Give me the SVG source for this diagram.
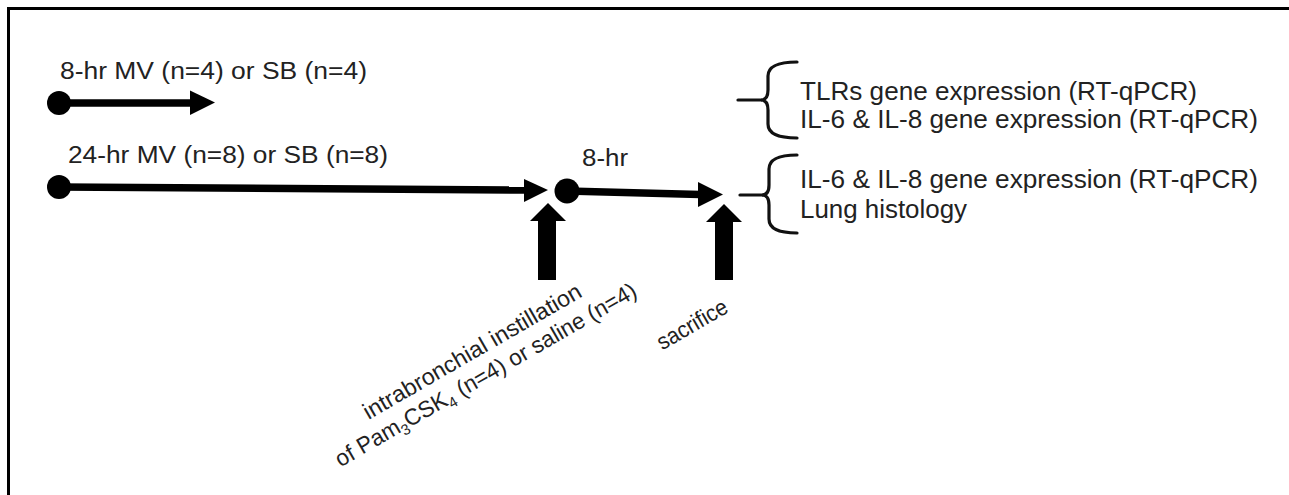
<svg xmlns="http://www.w3.org/2000/svg" width="1289" height="495" viewBox="0 0 1289 495">
<style>
  .t { font-family: "Liberation Sans", Arial, sans-serif; fill: #222; }
  .l { font-size: 23px; }
  .r { font-size: 25px; }
  .rot { font-size: 23px; }
  .line { stroke: #000; stroke-width: 7.5; fill: none; }
  .dot { fill: #000; }
  .head { fill: #000; }
  .brace { stroke: #111; stroke-width: 3.2; fill: none; stroke-linecap: round; }
  .frame { stroke: #000; stroke-width: 3; fill: none; }
</style>
<rect width="1289" height="495" fill="#fff"/>
<path class="frame" d="M8.5,495 L8.5,8.5 L1289,8.5"/>

<g id="label-8hr-group">
  <text class="t l" x="60" y="79" textLength="307" lengthAdjust="spacingAndGlyphs">8-hr MV (n=4) or SB (n=4)</text>
</g>
<g id="label-24hr-group">
  <text class="t l" x="68" y="163" textLength="320" lengthAdjust="spacingAndGlyphs">24-hr MV (n=8) or SB (n=8)</text>
</g>
<g id="label-8hr-after">
  <text class="t l" x="582" y="166" textLength="46" lengthAdjust="spacingAndGlyphs">8-hr</text>
</g>

<g id="start-8hr"><circle class="dot" cx="59" cy="103" r="12"/></g>
<g id="start-24hr"><circle class="dot" cx="59" cy="187" r="12"/></g>
<g id="instillation-point"><circle class="dot" cx="567" cy="191" r="12.5"/></g>

<g id="connectors">
  <line class="line" x1="59" y1="103" x2="192" y2="103"/>
  <polygon class="head" points="190,90.5 215,102.5 190,115"/>
  <line class="line" x1="59" y1="187" x2="527" y2="190"/>
  <polygon class="head" points="524,179 548,190 524,202"/>
  <line class="line" x1="567" y1="191" x2="700" y2="194.5"/>
  <polygon class="head" points="698,182 723,194.5 698,207"/>
  <polygon class="head" points="538,280 538,221 530,221 548,203 566,221 556,221 556,280"/>
  <polygon class="head" points="715,280 715,222 706,222 724,204 742,222 733,222 733,280"/>
</g>

<g id="instillation-label" transform="translate(476,358) rotate(-30)">
  <text class="t rot" x="-124" y="0" textLength="248" lengthAdjust="spacingAndGlyphs">intrabronchial instillation</text>
  <text class="t rot" x="-172" y="27" textLength="344" lengthAdjust="spacingAndGlyphs">of Pam<tspan font-size="15" dy="5">3</tspan><tspan dy="-5">CSK</tspan><tspan font-size="15" dy="5">4</tspan><tspan dy="-5"> (n=4) or saline (n=4)</tspan></text>
</g>

<g id="sacrifice-label" transform="translate(696,331) rotate(-30)">
  <text class="t rot" x="-39" y="0" textLength="78" lengthAdjust="spacingAndGlyphs">sacrifice</text>
</g>

<g id="outcome-8hr">
  <line class="brace" x1="738" y1="100" x2="761" y2="100" stroke-width="3.5"/>
  <path class="brace" d="M797,62 Q768,62 768,76 L768,90 Q768,100 761,100 Q768,100 768,110 L768,124 Q768,138 797,138"/>
  <text class="t r" x="800" y="100" textLength="397" lengthAdjust="spacingAndGlyphs">TLRs gene expression (RT-qPCR)</text>
  <text class="t r" x="800" y="128" textLength="458" lengthAdjust="spacingAndGlyphs">IL-6 &amp; IL-8 gene expression (RT-qPCR)</text>
</g>

<g id="outcome-24hr">
  <line class="brace" x1="740" y1="195" x2="762" y2="195" stroke-width="3.5"/>
  <path class="brace" d="M797,155 Q769,155 769,169 L769,185 Q769,195 762,195 Q769,195 769,205 L769,219 Q769,233 797,233"/>
  <text class="t r" x="800" y="188" textLength="458" lengthAdjust="spacingAndGlyphs">IL-6 &amp; IL-8 gene expression (RT-qPCR)</text>
  <text class="t r" x="800" y="218" textLength="167" lengthAdjust="spacingAndGlyphs">Lung histology</text>
</g>
</svg>
